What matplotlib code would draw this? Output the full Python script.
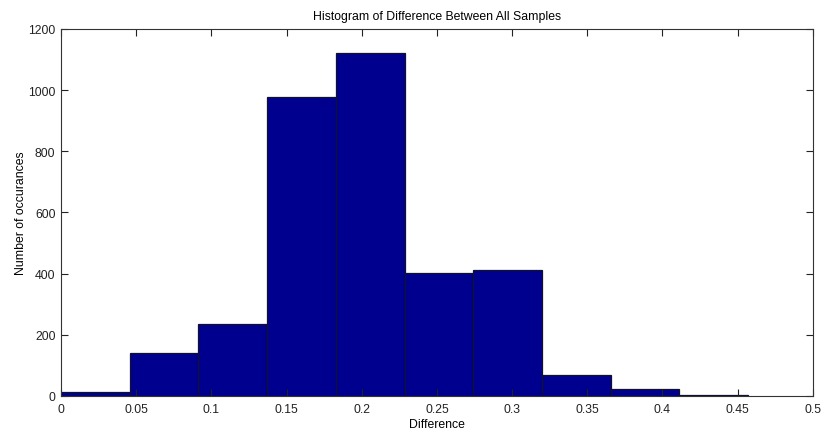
import numpy as np
import matplotlib.pyplot as plt

plt.rcParams['font.family'] = ['Liberation Sans', 'DejaVu Sans']

# histogram data
bin_edges = np.linspace(0, 0.457, 11)
counts = [13, 141, 235, 979, 1123, 402, 411, 68, 24, 2]
x_ticks = [0, 0.05, 0.1, 0.15, 0.2, 0.25, 0.3, 0.35, 0.4, 0.45, 0.5]
y_ticks = [0, 200, 400, 600, 800, 1000, 1200]


def main():
    fig = plt.figure(figsize=(8.21, 4.31), dpi=100)
    ax = fig.add_axes([0.0743, 0.0789, 0.9157, 0.8515])

    centers = (bin_edges[:-1] + bin_edges[1:]) / 2
    ax.hist(centers, bins=bin_edges, weights=counts,
            color='#00008F', edgecolor='#101030', linewidth=0.9)

    ax.set_xlim(0, 0.5)
    ax.set_ylim(0, 1200)
    ax.set_xticks(x_ticks)
    ax.set_xticklabels(['0', '0.05', '0.1', '0.15', '0.2', '0.25', '0.3',
                        '0.35', '0.4', '0.45', '0.5'])
    ax.set_yticks(y_ticks)
    ax.tick_params(direction='in', top=True, right=True, length=5,
                   width=0.8, labelsize=8.8, colors='#222222')
    ax.tick_params(axis='x', pad=5)
    ax.tick_params(axis='y', pad=4)
    for s in ax.spines.values():
        s.set_linewidth(0.8)
        s.set_color('#333333')

    ax.set_title('Histogram of Difference Between All Samples', fontsize=8.8, pad=7)
    ax.set_xlabel('Difference', fontsize=8.8, labelpad=2)
    ax.set_ylabel('Number of occurances', fontsize=8.8, labelpad=1)

    fig.savefig('out.png', dpi=100)


if __name__ == '__main__':
    main()
